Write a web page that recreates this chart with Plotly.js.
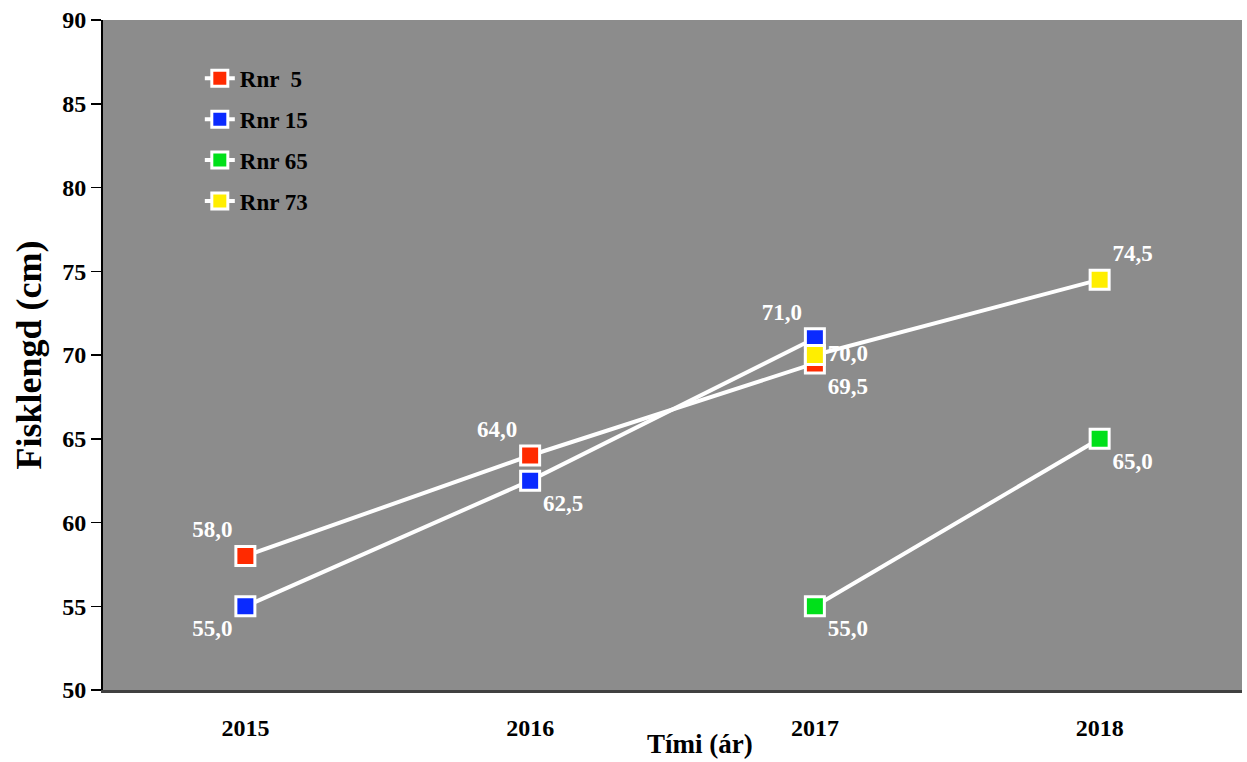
<!DOCTYPE html>
<html>
<head>
<meta charset="utf-8">
<script src="https://cdn.plot.ly/plotly-3.0.1.min.js"></script>
<style>html,body{margin:0;padding:0;background:#fff;}#chart{width:1247px;height:762px;}</style>
</head>
<body>
<div id="chart"></div>
<script>
const years = ["2015", "2016", "2017", "2018"];

const rnr5_x = ["2015", "2016", "2017"];
const rnr5_y = [58.0, 64.0, 69.5];
const rnr5_pos = ["top left", "top left", "bottom right"];

const rnr15_x = ["2015", "2016", "2017"];
const rnr15_y = [55.0, 62.5, 71.0];
const rnr15_pos = ["bottom left", "bottom right", "top left"];

const rnr65_x = ["2017", "2018"];
const rnr65_y = [55.0, 65.0];
const rnr65_pos = ["bottom right", "bottom right"];

const rnr73_x = ["2017", "2018"];
const rnr73_y = [70.0, 74.5];
const rnr73_pos = ["middle right", "top right"];

const seriesNames = ["Rnr  5", "Rnr 15", "Rnr 65", "Rnr 73"];
const seriesColors = ["#ff2a00", "#0a2aff", "#00e01a", "#ffee00"];

const xTitle = "Tími (ár)";
const yTitle = "Fisklengd (cm)";

function fmt(v){ return v.toFixed(1).replace(".", ","); }

const font = "Liberation Serif, Times New Roman, serif";

function mk(i, xs, ys, pos){
  return {
    type: "scatter",
    mode: "lines+markers+text",
    name: seriesNames[i],
    legendgroup: "g" + i,
    x: xs, y: ys,
    text: ys.map(fmt),
    textposition: pos,
    textfont: {family: font, size: 23, color: "#ffffff", weight: "bold"},
    line: {color: "#ffffff", width: 4},
    marker: {symbol: "square", size: 19, color: seriesColors[i], line: {color: "#ffffff", width: 3}},
    cliponaxis: false
  };
}

const data = [
  mk(0, rnr5_x, rnr5_y, rnr5_pos),
  mk(1, rnr15_x, rnr15_y, rnr15_pos),
  mk(2, rnr65_x, rnr65_y, rnr65_pos),
  mk(3, rnr73_x, rnr73_y, rnr73_pos)
];

const layout = {
  width: 1247, height: 762,
  margin: {l: 103, r: 5, t: 20, b: 72},
  paper_bgcolor: "#ffffff",
  plot_bgcolor: "#8c8c8c",
  font: {family: font, size: 18, color: "#000000", weight: "bold"},
  showlegend: true,
  legend: {
    x: 0.085, y: 0.945, xanchor: "left", yanchor: "top",
    bgcolor: "rgba(0,0,0,0)",
    font: {family: font, size: 23, color: "#000000", weight: "bold"},
    tracegroupgap: 8,
    traceorder: "grouped"
  },
  xaxis: {
    type: "category",
    categoryarray: years, categoryorder: "array",
    range: [-0.5, 3.5],
    showgrid: false, zeroline: false,
    showline: true, linecolor: "#404040", linewidth: 3,
    ticks: "outside", ticklen: 14, tickcolor: "rgba(0,0,0,0)",
    tickfont: {family: font, size: 24, color: "#000000", weight: "bold"}
  },
  yaxis: {
    range: [50, 90],
    dtick: 5,
    showgrid: false, zeroline: false,
    showline: true, linecolor: "#000000", linewidth: 2,
    ticks: "outside", ticklen: 10, tickcolor: "#000000", tickwidth: 1.5,
    tickfont: {family: font, size: 24, color: "#000000", weight: "bold"},
    title: {text: yTitle, font: {family: font, size: 36, color: "#000000", weight: "bold"}, standoff: 10}
  },
  annotations: [{
    text: xTitle, xref: "paper", yref: "paper",
    x: 0.524, y: 0, yshift: -54, xanchor: "center", yanchor: "middle",
    showarrow: false,
    font: {family: font, size: 27, color: "#000000", weight: "bold"}
  }]
};

Plotly.newPlot("chart", data, layout, {displayModeBar: false, staticPlot: true});
</script>
</body>
</html>
